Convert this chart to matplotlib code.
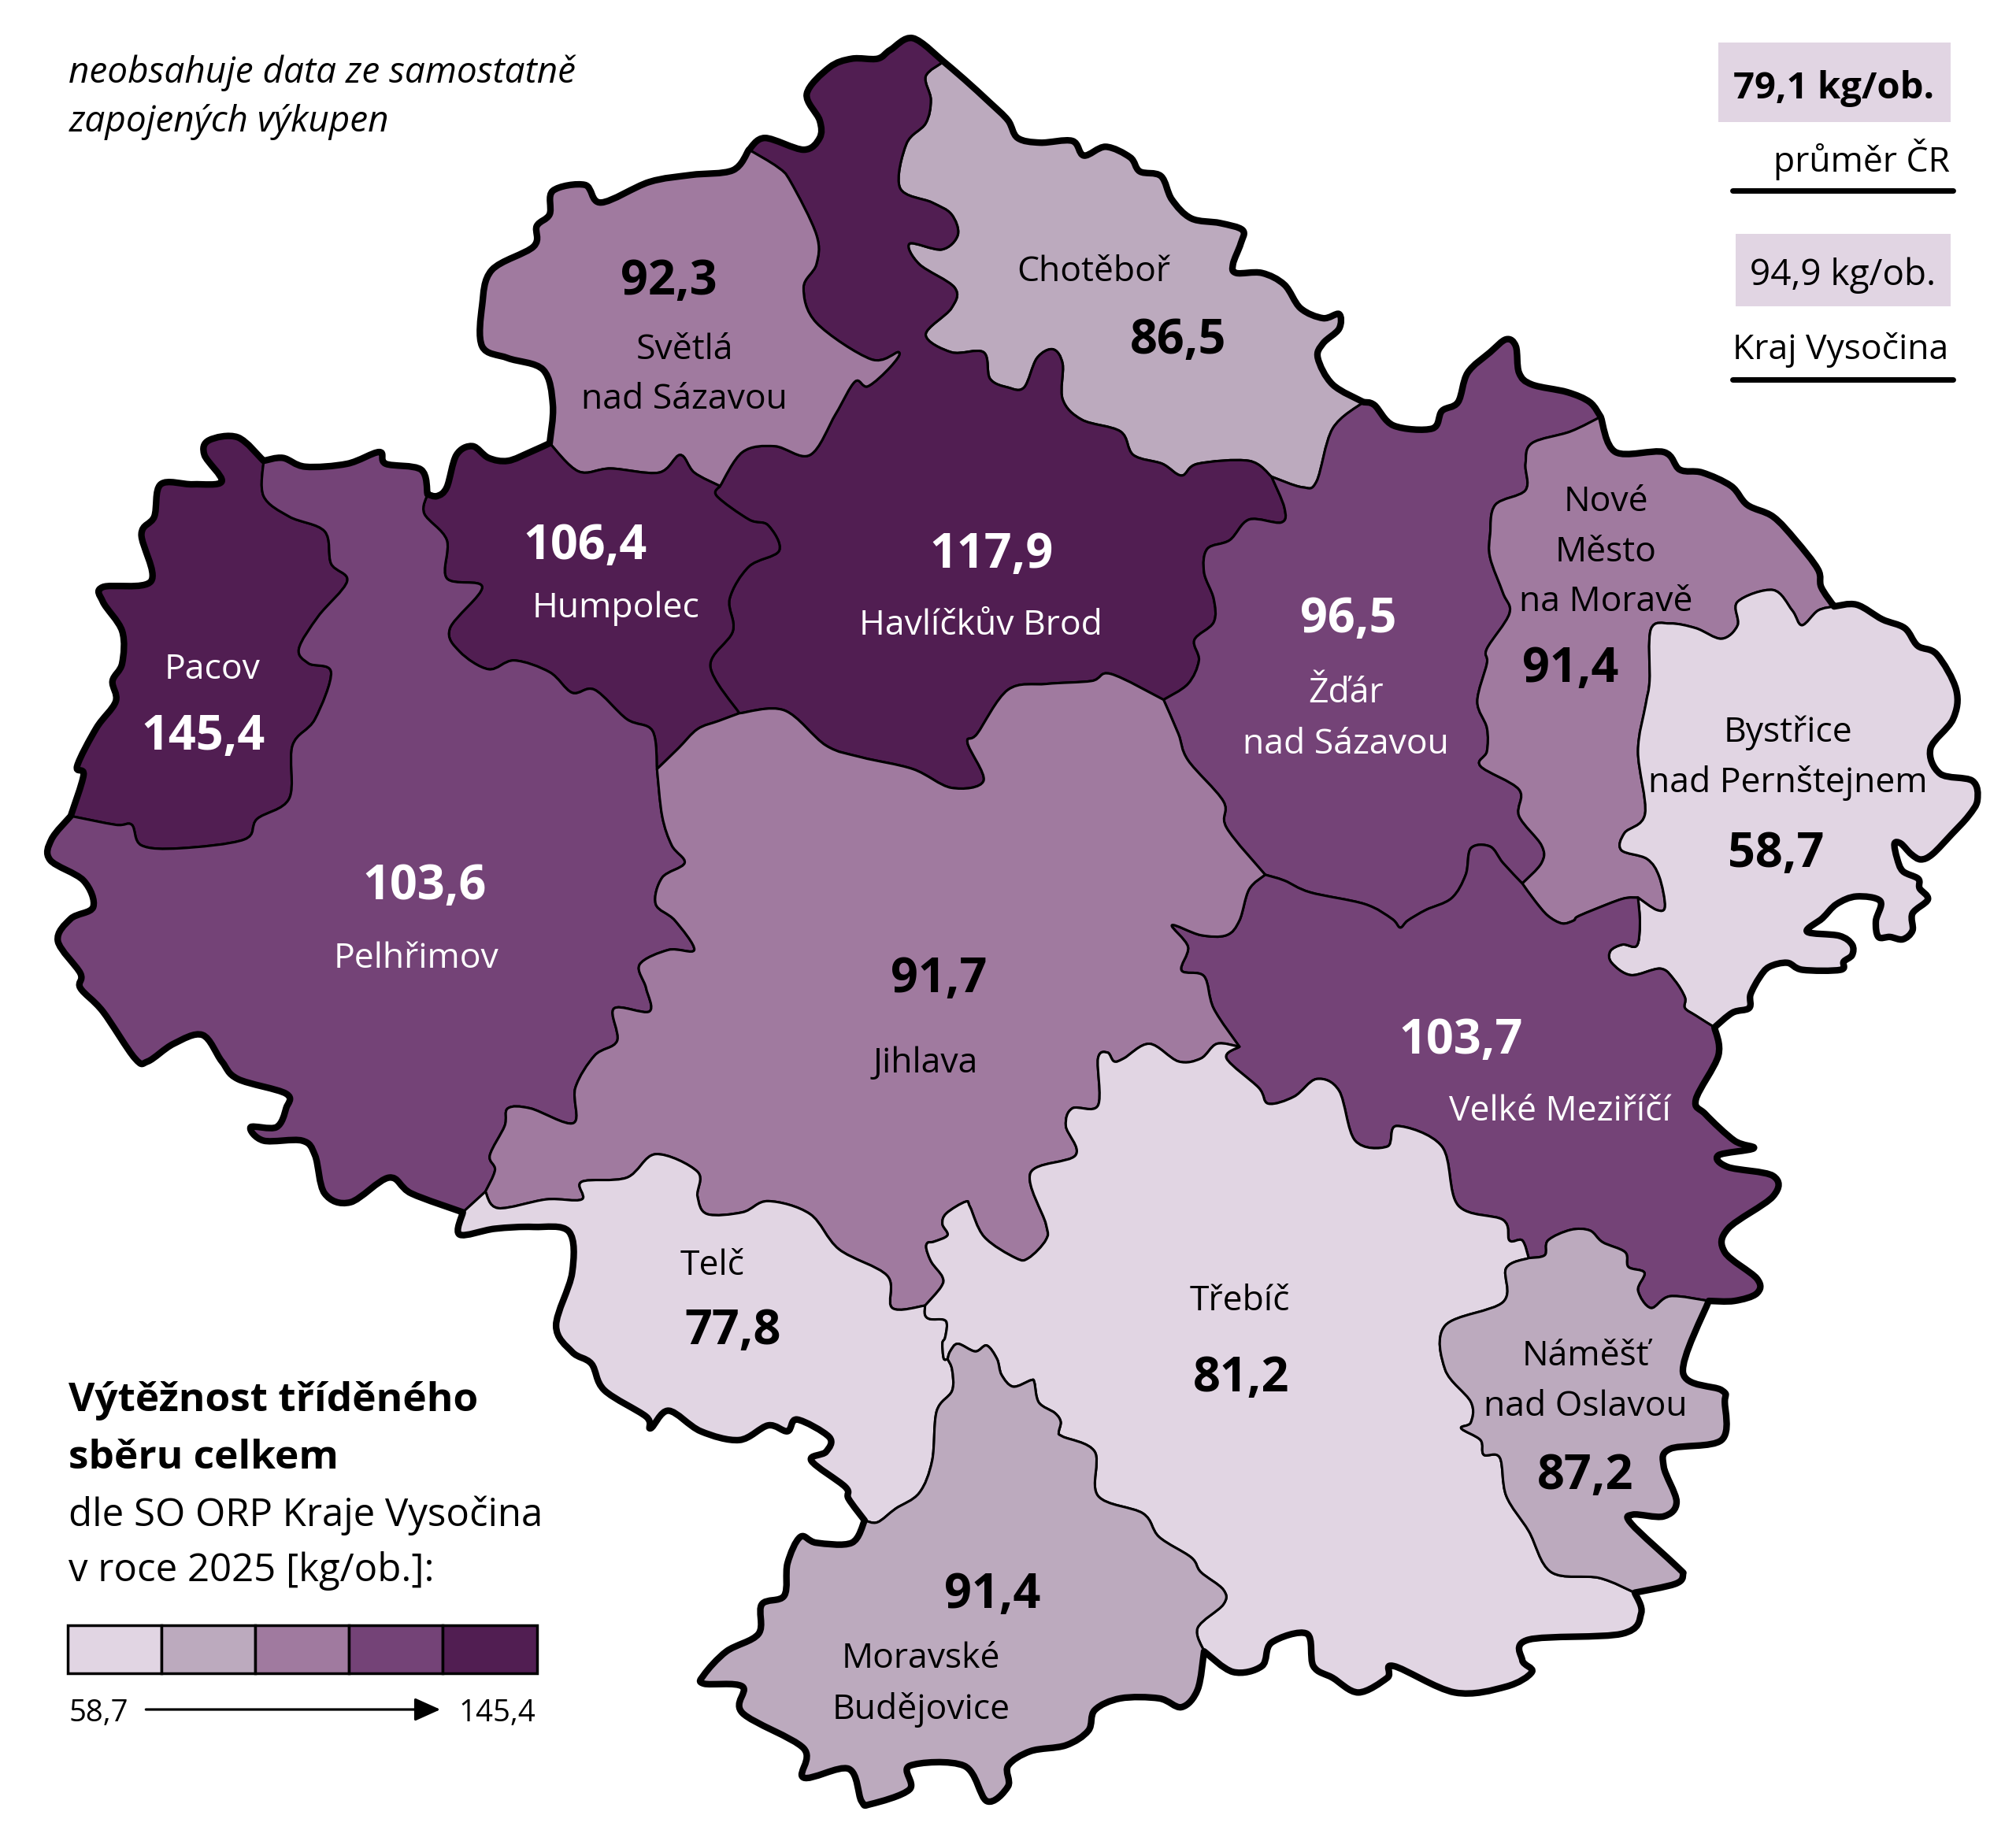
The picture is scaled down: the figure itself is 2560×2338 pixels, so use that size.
import matplotlib
matplotlib.use("Agg")
import matplotlib.pyplot as plt
from matplotlib.patches import PathPatch, Rectangle
from matplotlib.path import Path

plt.rcParams["font.family"] = ["Open Sans", "DejaVu Sans"]

# outer border of the region, clockwise from the north
OUT_CHOTEBOR = [(1468,105),(1500,135),(1540,175),(1568,205),(1583,235),(1618,243),(1668,240),(1686,265),(1720,250),(1758,268),(1773,292),(1806,300),(1823,340),(1853,372),(1898,380),(1933,392),(1930,415),(1918,450),(1923,465),(1963,465),(1998,485),(2023,525),(2058,542),(2083,535),(2083,560),(2058,585),(2050,610),(2073,655),(2121,685)]
OUT_ZDAR = [(2121,685),(2138,690),(2168,725),(2228,730),(2243,700),(2268,685),(2283,635),(2318,600),(2343,578),(2358,590),(2363,635),(2383,655),(2438,668),(2473,685),(2490,710)]
OUT_NMESTO = [(2490,710),(2513,770),(2588,770),(2613,800),(2648,805),(2693,828),(2718,860),(2758,880),(2793,920),(2828,970),(2833,1000),(2853,1033)]
OUT_BYSTRICE = [(2853,1033),(2888,1030),(2928,1055),(2963,1070),(2983,1100),(3013,1115),(3043,1175),(3038,1225),(3003,1275),(3018,1318),(3068,1330),(3076,1363),(3062,1390),(3036,1421),(3006,1455),(2988,1464),(2973,1455),(2957,1437),(2947,1437),(2951,1462),(2960,1484),(2984,1497),(2986,1513),(2999,1532),(2975,1556),(2975,1585),(2960,1600),(2940,1596),(2922,1596),(2918,1569),(2925,1535),(2888,1527),(2857,1540),(2835,1564),(2811,1587),(2861,1594),(2881,1609),(2881,1627),(2868,1638),(2863,1652),(2804,1652),(2780,1640),(2752,1647),(2737,1665),(2723,1694),(2721,1717),(2695,1725),(2667,1750)]
OUT_VMEZ = [(2667,1750),(2673,1798),(2638,1873),(2653,1898),(2698,1943),(2728,1956),(2673,1968),(2688,1988),(2758,2003),(2758,2038),(2688,2093),(2683,2133),(2733,2178),(2733,2203),(2698,2216),(2658,2216)]
OUT_NAMEST = [(2658,2216),(2618,2338),(2678,2368),(2683,2388),(2678,2453),(2598,2468),(2588,2498),(2608,2558),(2588,2583),(2540,2580),(2538,2596),(2608,2668),(2618,2682),(2606,2698),(2543,2713)]
OUT_TREBIC = [(2543,2713),(2553,2748),(2523,2783),(2378,2793),(2368,2828),(2383,2848),(2343,2873),(2263,2883),(2168,2838),(2158,2858),(2113,2883),(2073,2858),(2043,2838),(2033,2783),(1978,2798),(1963,2838),(1918,2848),(1873,2813)]
OUT_MBUD = [(1873,2813),(1863,2878),(1838,2908),(1803,2893),(1743,2893),(1703,2913),(1693,2948),(1658,2973),(1603,2983),(1568,3008),(1568,3043),(1535,3068),(1500,3008),(1415,3008),(1415,3048),(1355,3073),(1340,3068),(1320,3013),(1250,3028),(1250,2978),(1155,2918),(1155,2873),(1095,2868),(1095,2853),(1130,2813),(1180,2783),(1185,2733),(1220,2718),(1225,2663),(1245,2618),(1270,2628),(1325,2628),(1345,2590)]
OUT_TELC = [(1345,2590),(1320,2553),(1315,2533),(1262,2488),(1285,2473),(1290,2448),(1240,2418),(1225,2438),(1195,2428),(1150,2453),(1090,2438),(1040,2403),(1012,2433),(1005,2413),(940,2368),(920,2323),(890,2303),(865,2258),(890,2168),(885,2098),(830,2090),(770,2093),(715,2103),(720,2065)]
OUT_PELH_LOW = [(720,2065),(640,2033),(605,2006),(545,2048),(505,2033),(490,1968),(470,1943),(410,1943),(390,1920),(430,1920),(445,1888),(445,1863),(370,1838),(345,1808),(315,1763),(270,1778),(230,1808),(210,1803),(160,1723),(125,1683),(125,1658),(90,1603),(110,1565),(145,1545),(130,1500),(78,1465),(80,1430),(110,1390)]
OUT_PACOV = [(110,1390),(130,1320),(120,1305),(150,1240),(180,1195),(175,1160),(190,1130),(190,1075),(160,1025),(160,1000),(235,990),(220,910),(240,880),(250,825),(300,825),(345,820),(318,775),(325,750),(370,745),(410,785)]
OUT_PELH_UP = [(410,785),(440,780),(475,795),(540,790),(590,770),(600,790),(655,800),(665,842)]
OUT_HUMPOLEC = [(665,842),(680,845),(695,830),(710,775),(735,760),(760,780),(790,785),(825,770),(855,755)]
OUT_SVETLA = [(855,755),(860,690),(845,630),(790,610),(750,590),(750,520),(765,460),(830,420),(835,385),(855,365),(860,325),(910,315),(935,345),(1010,310),(1075,298),(1140,290),(1165,255)]
OUT_HB = [(1165,255),(1190,235),(1250,255),(1275,235),(1275,205),(1255,160),(1290,115),(1325,100),(1365,100),(1385,85),(1420,65),(1468,105)]

# borders between two districts
B_HB_CHOT = [(1468,105),(1440,130),(1448,170),(1440,210),(1410,245),(1400,320),(1450,345),(1480,365),(1490,400),(1465,425),(1415,415),(1430,450),(1485,490),(1480,525),(1440,570),(1480,600),(1530,600),(1540,645),(1568,660),(1593,660),(1613,610),(1638,595),(1653,620),(1653,680),(1683,715),(1743,735),(1763,775),(1808,790),(1838,810),(1863,790),(1943,785),(1978,812)]
B_ZDAR_CHOT = [(2121,685),(2073,730),(2048,820),(2026,830),(1978,812)]
B_ZDAR_HB = [(1978,812),(1998,865),(1993,890),(1943,885),(1913,920),(1878,935),(1873,975),(1888,1020),(1888,1060),(1858,1090),(1865,1125),(1848,1165),(1810,1192)]
B_ZDAR_JIH = [(1810,1192),(1833,1250),(1848,1295),(1903,1365),(1908,1410),(1968,1490)]
B_ZDAR_VM = [(2368,1505),(2338,1470),(2318,1442),(2288,1445),(2280,1490),(2258,1530),(2218,1550),(2190,1568),(2178,1580),(2165,1565),(2123,1540),(2038,1520),(1998,1500),(1968,1490)]
B_ZDAR_NM = [(2368,1505),(2398,1470),(2398,1440),(2363,1390),(2363,1345),(2303,1305),(2313,1280),(2313,1240),(2298,1195),(2313,1130),(2313,1105),(2348,1045),(2338,1010),(2318,950),(2318,910),(2326,860),(2373,835),(2373,790),(2383,755),(2443,735),(2490,710)]
B_NM_BYS = [(2853,1033),(2828,1040),(2803,1065),(2788,1040),(2758,1005),(2703,1025),(2703,1065),(2678,1088),(2638,1070),(2598,1062),(2568,1072),(2566,1160),(2560,1200),(2548,1280),(2559,1386),(2527,1419),(2522,1448),(2562,1463),(2581,1493),(2590,1544),(2577,1550),(2548,1529)]
B_NM_VM = [(2548,1529),(2524,1531),(2476,1551),(2453,1562),(2448,1568),(2430,1573),(2408,1560),(2388,1535),(2368,1505)]
B_BYS_VM = [(2548,1529),(2551,1573),(2546,1611),(2524,1609),(2505,1620),(2507,1640),(2537,1661),(2583,1650),(2605,1670),(2621,1699),(2621,1717),(2638,1730),(2667,1750)]
B_HB_JIH = [(1810,1192),(1728,1148),(1698,1160),(1628,1165),(1568,1175),(1520,1250),(1505,1265),(1530,1330),(1480,1342),(1420,1310),(1340,1290),(1285,1270),(1220,1210),(1150,1215)]
B_HB_HUM = [(1150,1215),(1105,1135),(1140,1075),(1135,1020),(1165,965),(1212,938),(1195,895),(1165,885),(1115,845),(1120,828)]
B_HB_SVE = [(1120,828),(1155,770),(1205,760),(1260,775),(1300,705),(1330,650),(1350,658),(1385,625),(1398,600),(1355,612),(1270,550),(1250,490),(1270,450),(1270,400),(1230,310),(1210,285),(1165,255)]
B_HUM_SVE = [(1120,828),(1080,805),(1058,775),(1025,805),(950,798),(900,803),(855,755)]
B_HUM_PEL = [(665,842),(660,875),(695,920),(695,985),(750,1000),(700,1070),(715,1110),(760,1140),(800,1125),(855,1145),(890,1180),(925,1175),(975,1225),(1015,1245),(1022,1310)]
B_HUM_JIH = [(1022,1310),(1055,1275),(1085,1242),(1118,1228),(1150,1215)]
B_PAC_PEL = [(410,785),(410,845),(450,880),(505,905),(515,960),(540,990),(495,1050),(465,1105),(480,1130),(515,1145),(490,1225),(455,1270),(450,1360),(400,1395),(380,1430),(280,1445),(220,1440),(205,1405),(180,1405),(110,1390)]
B_PEL_JIH = [(1022,1310),(1030,1390),(1045,1440),(1065,1470),(1030,1495),(1020,1540),(1050,1568),(1080,1618),(1040,1618),(995,1643),(1005,1683),(1010,1723),(955,1718),(960,1773),(925,1798),(895,1853),(892,1913),(825,1888),(790,1888),(785,1918),(762,1968),(770,1993),(755,2030)]
B_PEL_TEL = [(755,2030),(720,2065)]
B_TEL_JIH = [(755,2030),(775,2058),(850,2043),(905,2043),(905,2013),(975,2006),(1020,1966),(1085,1996),(1085,2038),(1100,2068),(1155,2065),(1195,2046),(1260,2068),(1305,2128),(1380,2173),(1388,2228),(1439,2224)]
B_JIH_TRE = [(1439,2224),(1464,2192),(1466,2175),(1449,2150),(1441,2127),(1443,2117),(1453,2115),(1474,2104),(1466,2085),(1472,2067),(1502,2047),(1509,2056),(1531,2107),(1580,2143),(1600,2143),(1627,2112),(1627,2085),(1603,1998),(1673,1968),(1658,1918),(1668,1888),(1708,1883),(1708,1803),(1723,1793),(1733,1808),(1748,1803),(1788,1778),(1833,1808),(1868,1803),(1893,1778),(1928,1783)]
B_JIH_VM = [(1968,1490),(1943,1515),(1928,1568),(1908,1593),(1868,1593),(1823,1576),(1848,1613),(1838,1653),(1873,1663),(1888,1718),(1928,1783)]
B_TRE_VM = [(1928,1783),(1908,1803),(1958,1853),(1973,1880),(2013,1868),(2048,1838),(2083,1858),(2108,1943),(2158,1953),(2173,1918),(2243,1953),(2268,2053),(2338,2078),(2348,2113),(2368,2113),(2378,2143)]
B_VM_NAM = [(2378,2143),(2403,2138),(2408,2113),(2443,2095),(2473,2096),(2493,2116),(2528,2133),(2533,2158),(2558,2168),(2548,2198),(2568,2228),(2598,2208),(2658,2216)]
B_NAM_TRE = [(2378,2143),(2343,2160),(2338,2218),(2248,2258),(2248,2333),(2288,2388),(2288,2423),(2273,2433),(2303,2453),(2308,2478),(2333,2483),(2343,2548),(2378,2608),(2413,2678),(2488,2688),(2543,2713)]
B_TEL_TRE = [(1439,2224),(1439,2240),(1447,2247),(1468,2248),(1473,2257),(1470,2279),(1466,2288),(1468,2314),(1474,2315)]
B_TRE_MB = [(1474,2315),(1478,2302),(1490,2289),(1517,2302),(1535,2292),(1551,2315),(1558,2342),(1576,2362),(1604,2351),(1609,2355),(1616,2389),(1641,2407),(1650,2422),(1647,2440),(1653,2447),(1703,2473),(1708,2548),(1778,2578),(1803,2618),(1853,2653),(1868,2678),(1903,2708),(1903,2733),(1863,2773),(1873,2813)]
B_TEL_MB = [(1474,2315),(1481,2333),(1481,2369),(1457,2404),(1450,2488),(1430,2543),(1393,2570),(1365,2593),(1345,2590)]

OUTLINE = [OUT_CHOTEBOR, OUT_ZDAR, OUT_NMESTO, OUT_BYSTRICE, OUT_VMEZ, OUT_NAMEST, OUT_TREBIC,
           OUT_MBUD, OUT_TELC, OUT_PELH_LOW, OUT_PACOV, OUT_PELH_UP, OUT_HUMPOLEC, OUT_SVETLA, OUT_HB]

# (arc, direction) chains closing each district
DISTRICT_ARCS = {
    "Chotěboř": [(OUT_CHOTEBOR, 1), (B_ZDAR_CHOT, 1), (B_HB_CHOT, -1)],
    "Havlíčkův Brod": [(OUT_HB, 1), (B_HB_CHOT, 1), (B_ZDAR_HB, 1), (B_HB_JIH, 1), (B_HB_HUM, 1), (B_HB_SVE, 1)],
    "Světlá": [(OUT_SVETLA, 1), (B_HB_SVE, -1), (B_HUM_SVE, 1)],
    "Humpolec": [(OUT_HUMPOLEC, 1), (B_HUM_SVE, -1), (B_HB_HUM, -1), (B_HUM_JIH, -1), (B_HUM_PEL, -1)],
    "Pacov": [(OUT_PACOV, 1), (B_PAC_PEL, 1)],
    "Pelhřimov": [(OUT_PELH_UP, 1), (B_HUM_PEL, 1), (B_PEL_JIH, 1), (B_PEL_TEL, 1), (OUT_PELH_LOW, 1), (B_PAC_PEL, -1)],
    "Žďár": [(OUT_ZDAR, 1), (B_ZDAR_NM, -1), (B_ZDAR_VM, 1), (B_ZDAR_JIH, -1), (B_ZDAR_HB, -1), (B_ZDAR_CHOT, -1)],
    "Nové Město": [(OUT_NMESTO, 1), (B_NM_BYS, 1), (B_NM_VM, 1), (B_ZDAR_NM, 1)],
    "Bystřice": [(OUT_BYSTRICE, 1), (B_BYS_VM, -1), (B_NM_BYS, -1)],
    "Velké Meziříčí": [(OUT_VMEZ, 1), (B_VM_NAM, -1), (B_TRE_VM, -1), (B_JIH_VM, -1), (B_ZDAR_VM, -1), (B_NM_VM, -1), (B_BYS_VM, 1)],
    "Jihlava": [(B_ZDAR_JIH, 1), (B_JIH_VM, 1), (B_JIH_TRE, -1), (B_TEL_JIH, -1), (B_PEL_JIH, -1), (B_HUM_JIH, 1), (B_HB_JIH, -1)],
    "Telč": [(B_TEL_JIH, 1), (B_TEL_TRE, 1), (B_TEL_MB, 1), (OUT_TELC, 1), (B_PEL_TEL, -1)],
    "Třebíč": [(B_TRE_VM, 1), (B_NAM_TRE, 1), (OUT_TREBIC, 1), (B_TRE_MB, -1), (B_TEL_TRE, -1), (B_JIH_TRE, 1)],
    "Náměšť": [(B_VM_NAM, 1), (OUT_NAMEST, 1), (B_NAM_TRE, -1)],
    "Moravské Budějovice": [(B_TRE_MB, 1), (OUT_MBUD, 1), (B_TEL_MB, -1)],
}

CLASS_COLORS = ["#E1D5E3", "#BCAABE", "#A07A9F", "#744377", "#511E52"]
DISTRICT_NAMES = list(DISTRICT_ARCS)
DISTRICT_CLASS = [1, 4, 2, 4, 4, 3, 3, 2, 0, 3, 2, 0, 0, 1, 1]

VALUE_LABELS = ["86,5", "117,9", "92,3", "106,4", "145,4", "103,6", "96,5", "91,4", "58,7", "103,7", "91,7", "77,8", "81,2", "87,2", "91,4"]
VALUE_POS = [(1833,575), (1542,940), (1040,475), (910,925), (316,1250), (660,1505), (2098,1050), (2443,1135), (2763,1450), (2273,1768), (1460,1663), (1140,2263), (1931,2343), (2466,2510), (1544,2712)]
NAME_TEXTS = ["Chotěboř", "Havlíčkův Brod", "Světlá", "nad Sázavou", "Humpolec", "Pacov", "Pelhřimov", "Žďár", "nad Sázavou", "Nové", "Město", "na Moravě", "Bystřice", "nad Pernštejnem", "Velké Meziříčí", "Jihlava", "Telč", "Třebíč", "Náměšť", "nad Oslavou", "Moravské", "Budějovice"]
NAME_POS = [(1701,458), (1526,1060), (1065,590), (1065,675), (958,1030), (330,1135), (647,1628), (2093,1175), (2093,1262), (2498,850), (2498,935), (2498,1020), (2781,1243), (2781,1328), (2426,1888), (1440,1806), (1108,2151), (1928,2211), (2466,2305), (2466,2390), (1433,2820), (1433,2906)]
NAME_CLASS = [1, 4, 2, 2, 4, 4, 3, 3, 3, 2, 2, 2, 0, 0, 3, 2, 0, 0, 1, 1, 1, 1]

LEGEND_MIN = "58,7"
LEGEND_MAX = "145,4"

X_MAX, Y_MAX = 3136, 3136
INNER_LW = 2.2
OUTER_LW = 6.0
NAME_SIZE = 32
VALUE_SIZE = 44
TEXT_DY = 6


def smooth_arc(points):
    # spline through the traced points, as cubic segments
    verts = []
    n = len(points)
    for i in range(n - 1):
        p0 = points[max(i - 1, 0)]
        p1 = points[i]
        p2 = points[i + 1]
        p3 = points[min(i + 2, n - 1)]
        c1 = (p1[0] + (p2[0] - p0[0]) / 6, p1[1] + (p2[1] - p0[1]) / 6)
        c2 = (p2[0] - (p3[0] - p1[0]) / 6, p2[1] - (p3[1] - p1[1]) / 6)
        verts += [c1, c2, p2]
    return verts, [Path.CURVE4] * len(verts)


def chain_path(chain, close=True):
    start = chain[0][0][0] if chain[0][1] == 1 else chain[0][0][-1]
    verts, codes = [start], [Path.MOVETO]
    for arc, direction in chain:
        v, c = smooth_arc(arc if direction == 1 else arc[::-1])
        verts += v
        codes += c
    if close:
        verts.append(start)
        codes.append(Path.CLOSEPOLY)
    return Path(verts, codes)


def text_color(cls):
    return "white" if cls >= 3 else "black"


fig = plt.figure(figsize=(25.6, 23.38), dpi=100)
ax = fig.add_axes([0, 0, 1, 1])
ax.set_xlim(0, X_MAX)
ax.set_ylim(Y_MAX, 0)
ax.axis("off")

for name, cls in zip(DISTRICT_NAMES, DISTRICT_CLASS):
    ax.add_patch(PathPatch(chain_path(DISTRICT_ARCS[name]), facecolor=CLASS_COLORS[cls],
                           edgecolor="black", lw=INNER_LW, joinstyle="round"))
ax.add_patch(PathPatch(chain_path([(arc, 1) for arc in OUTLINE]), facecolor="none",
                       edgecolor="black", lw=OUTER_LW, joinstyle="round"))

for label, (x, y), cls in zip(VALUE_LABELS, VALUE_POS, DISTRICT_CLASS):
    ax.text(x, y + TEXT_DY, label, fontsize=VALUE_SIZE, fontweight="bold", color=text_color(cls), ha="center", va="center")
for label, (x, y), cls in zip(NAME_TEXTS, NAME_POS, NAME_CLASS):
    ax.text(x, y + TEXT_DY, label, fontsize=NAME_SIZE, color=text_color(cls), ha="center", va="center")

# note and reference values
ax.text(107, 118 + TEXT_DY, "neobsahuje data ze samostatně", fontsize=33, style="italic", va="center")
ax.text(107, 202 + TEXT_DY, "zapojených výkupen", fontsize=33, style="italic", va="center")

ax.add_patch(Rectangle((2673, 72), 361, 136, facecolor=CLASS_COLORS[0], edgecolor="none"))
ax.text(2853, 145 + TEXT_DY, "79,1 kg/ob.", fontsize=34, fontweight="bold", ha="center", va="center")
ax.text(3033, 266 + TEXT_DY, "průměr ČR", fontsize=NAME_SIZE, ha="right", va="center")
ax.plot([2695, 3038], [325, 325], color="black", lw=5, solid_capstyle="round")
ax.add_patch(Rectangle((2700, 398), 334, 124, facecolor=CLASS_COLORS[0], edgecolor="none"))
ax.text(2866, 463 + TEXT_DY, "94,9 kg/ob.", fontsize=33, ha="center", va="center")
ax.text(2863, 590 + TEXT_DY, "Kraj Vysočina", fontsize=NAME_SIZE, ha="center", va="center")
ax.plot([2695, 3038], [646, 646], color="black", lw=5, solid_capstyle="round")

# legend
ax.text(107, 2380 + TEXT_DY, "Výtěžnost tříděného", fontsize=37, fontweight="bold", va="center")
ax.text(107, 2478 + TEXT_DY, "sběru celkem", fontsize=37, fontweight="bold", va="center")
ax.text(107, 2576 + TEXT_DY, "dle SO ORP Kraje Vysočina", fontsize=35.4, va="center")
ax.text(107, 2670 + TEXT_DY, "v roce 2025 [kg/ob.]:", fontsize=35.4, va="center")

cell_w = (835 - 105) / len(CLASS_COLORS)
for i, color in enumerate(CLASS_COLORS):
    ax.add_patch(Rectangle((105 + i * cell_w, 2768), cell_w, 82, facecolor=color, edgecolor="black", lw=2.5))

ax.text(107, 2913 + TEXT_DY, LEGEND_MIN, fontsize=27.5, va="center")
ax.text(833, 2913 + TEXT_DY, LEGEND_MAX, fontsize=27.5, ha="right", va="center")
ax.annotate("", xy=(685, 2912), xytext=(227, 2912),
            arrowprops=dict(arrowstyle="-|>,head_length=1.0,head_width=0.45", mutation_scale=20,
                            color="black", lw=2.3, shrinkA=0, shrinkB=0))

fig.savefig("out.png", dpi=100, facecolor="white")
plt.close(fig)
